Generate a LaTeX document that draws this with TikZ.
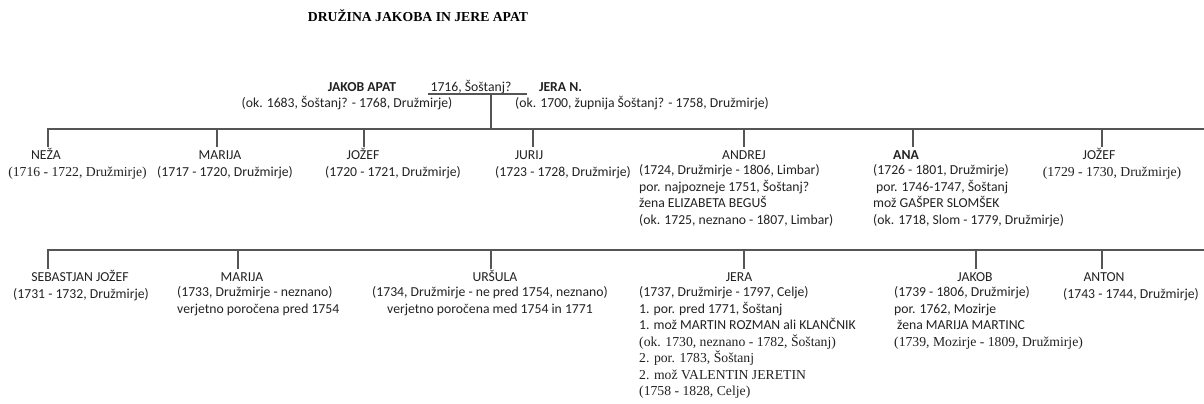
\documentclass[tikz,border=0pt]{standalone}
\usepackage{fontspec}
\setmainfont{Carlito}
\newfontfamily\tnr{Liberation Serif}
\usetikzlibrary{positioning}
\definecolor{treegray}{HTML}{555555}
\definecolor{ink}{HTML}{222222}
\newcommand\fsz{\fontsize{13.7}{16.5}\selectfont}

\begin{document}
\begin{tikzpicture}[x=1pt, y=-1pt, inner sep=0pt, text=ink,
                    every node/.style={font=\fsz}]
\tikzstyle{tree}=[draw=treegray, line width=1.8pt, line cap=rect]
\tikzstyle{pname}=[anchor=base, text height=13.5pt]
\tikzstyle{pbold}=[pname, font=\fsz\bfseries]
\tikzstyle{life}=[anchor=base]
\tikzstyle{info}=[anchor=north west, align=left, execute at begin node=\strut]
\useasboundingbox (0,0) rectangle (1204,404);
  \node[anchor=base, font=\tnr\fsz\bfseries, text=black] (title) at (418,21.5) {DRUŽINA JAKOBA IN JERE APAT};
  \node[life, font=\fsz\bfseries] (jakob) at (362,91.5) {JAKOB APAT};
  \node[life] (wed)  at (471,91.5) {1716, Šoštanj?};
  \node[life, font=\fsz\bfseries] (jera) at (560.5,91.5) {JERA N.};
  \node[life] (jakobl) at (347,107.5) {(ok. 1683, Šoštanj? - 1768, Družmirje)};
  \node[life, anchor=base west] (jeral) at (515,107.5) {(ok. 1700, župnija Šoštanj? - 1758, Družmirje)};
  \coordinate (wl) at (428,94);
  \coordinate (wr) at (527,94);
  \coordinate (wm) at (491,94);
  \coordinate (bar1) at (48,129);
  \coordinate (bar1e) at (1204,129);
  \coordinate (bar2) at (48,250);
  \coordinate (bar2e) at (1204,250);
  \draw[tree, line width=1.3pt, line cap=butt] (wl) -- (wr);
  \draw[tree] (wm) -- (wm |- bar1);
  \draw[tree] (bar1) -- (bar1e);
  \draw[tree] (bar2) -- (bar2e);
  % first row
  \node[pname] (neza)    at (46,159.5)   {NEŽA};
  \node[life]  (nezal)   at (77.5,176)   {\tnr (1716 - 1722, Družmirje)};
  \node[pname] (marija)  at (220,159.5)  {MARIJA};
  \node[life]  (marijal) at (225,176)    {(1717 - 1720, Družmirje)};
  \node[pname] (jozef)   at (363,159.5)  {JOŽEF};
  \node[life]  (jozefl)  at (393,176)    {(1720 - 1721, Družmirje)};
  \node[pname] (jurij)   at (529,159.5)  {JURIJ};
  \node[life]  (jurijl)  at (563,176)    {(1723 - 1728, Družmirje)};
  \node[pname] (andrej)  at (744,159.5)  {ANDREJ};
  \node[info]  (andrejl) at (639,164.45) {(1724, Družmirje - 1806, Limbar)\\por. najpozneje 1751, Šoštanj?\\žena ELIZABETA BEGUŠ\\(ok. 1725, neznano - 1807, Limbar)};
  \node[pbold] (ana)     at (906,159.5)  {ANA};
  \node[info]  (anal)    at (873,164.45) {(1726 - 1801, Družmirje)\\\hspace*{3pt}por. 1746-1747, Šoštanj\\mož GAŠPER SLOMŠEK\\(ok. 1718, Slom - 1779, Družmirje)};
  \node[pname] (jozefb)  at (1099,159.5) {JOŽEF};
  \node[life]  (jozefbl) at (1112,176)   {\tnr (1729 - 1730, Družmirje)};
  % second row
  \node[pname] (sebastjan)  at (80,281.5)   {SEBASTJAN JOŽEF};
  \node[life]  (sebastjanl) at (81,298)     {(1731 - 1732, Družmirje)};
  \node[pname] (marijab)    at (242,281.5)  {MARIJA};
  \node[info]  (marijabl)   at (177,286.45) {(1733, Družmirje - neznano)\\verjetno poročena pred 1754};
  \node[pname] (ursula)     at (495,281.5)  {URŠULA};
  \node[info, anchor=north, align=center] (ursulal) at (490,286.45) {(1734, Družmirje - ne pred 1754, neznano)\\verjetno poročena med 1754 in 1771};
  \node[pname] (jerab)      at (739,281.5)  {JERA};
  \node[info]  (jerabl)     at (639,286.45) {(1737, Družmirje - 1797, Celje)\\1. por. pred 1771, Šoštanj\\1. mož MARTIN ROZMAN ali KLANČNIK\\{\tnr (ok. 1730, neznano - 1782, Šoštanj)}\\{\tnr 2. por. 1783, Šoštanj}\\{\tnr 2. mož VALENTIN JERETIN}\\{\tnr (1758 - 1828, Celje)}};
  \node[pname] (jakobb)     at (975,281.5)  {JAKOB};
  \node[info]  (jakobbl)    at (894,286.45) {(1739 - 1806, Družmirje)\\por. 1762, Mozirje\\\hspace*{3pt}žena MARIJA MARTINC\\{\tnr (1739, Mozirje - 1809, Družmirje)}};
  \node[pname] (anton)      at (1104,281.5) {ANTON};
  \node[life]  (antonl)     at (1131,298)   {(1743 - 1744, Družmirje)};
  \foreach \x/\n in {48/neza, 217/marija, 364/jozef, 533/jurij, 744/andrej, 913/ana, 1102/jozefb}
    \draw[tree] (\x,0 |- bar1) -- (\x,0 |- \n.north);
  \foreach \x/\n in {48/sebastjan, 238/marijab, 491/ursula, 744/jerab, 976/jakobb, 1102/anton}
    \draw[tree] (\x,0 |- bar2) -- (\x,0 |- \n.north);
\end{tikzpicture}
\end{document}
